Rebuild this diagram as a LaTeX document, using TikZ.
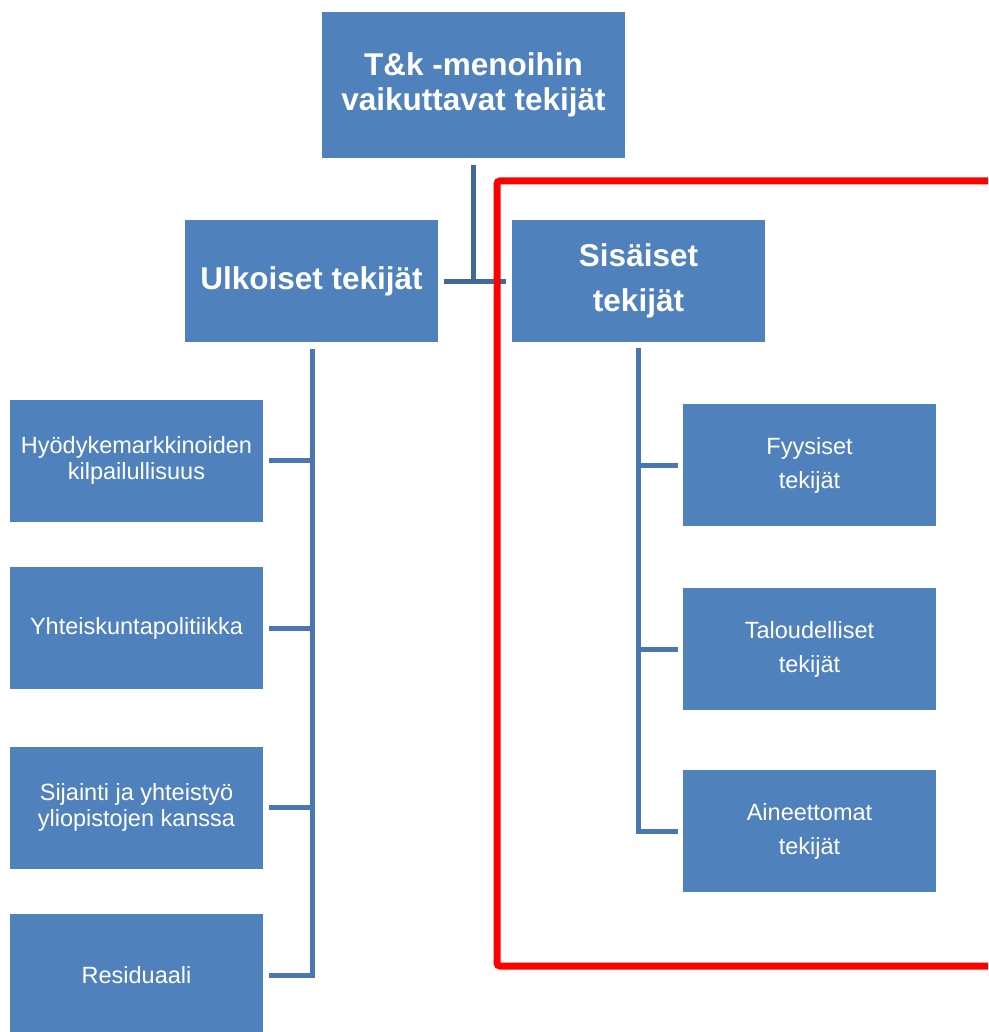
\documentclass[tikz,border=0pt]{standalone}
\usepackage{fontspec}
\setmainfont{Liberation Sans}
\usepackage{tikz}

\definecolor{boxblue}{HTML}{4F81BD}
\definecolor{linkblue}{HTML}{4A77B0}
\definecolor{darkblue}{HTML}{41689A}

\begin{document}
\begin{tikzpicture}[x=1pt, y=-1pt,
  box/.style = {fill=boxblue, text=white, align=center, inner sep=0pt,
    minimum width=253pt, minimum height=122pt},
  small/.style = {box, font=\fontsize{23.5}{26}\selectfont},
  wide/.style = {box, font=\fontsize{23.5}{34}\selectfont},
  head/.style = {box, font=\bfseries\fontsize{31.5}{45}\selectfont},
  tree/.style = {draw=linkblue, line width=5pt},
  junc/.style = {draw=darkblue, line width=5pt},
  frame/.style = {draw=red, line width=7pt, rounded corners=3pt}]
\useasboundingbox (0,0) rectangle (988,1032);
\clip (0,0) rectangle (988,1032);
\node[head, minimum width=303pt, minimum height=146pt, font=\bfseries\fontsize{31.5}{35}\selectfont] (top) at (473.5,85) {T\&k -menoihin\\vaikuttavat tekijät};
\node[head] (ulk) at (311.5,281) {Ulkoiset tekijät};
\node[head] (sis) at (638.5,281) {Sisäiset\\tekijät};
% ulkoiset
\node[small] (hyo) at (136.5,460.5) {Hyödykemarkkinoiden\\kilpailullisuus};
\node[small] (yht) at (136.5,628) {Yhteiskuntapolitiikka};
\node[small] (sij) at (136.5,807.5) {Sijainti ja yhteistyö\\yliopistojen kanssa};
\node[small] (res) at (136.5,975) {Residuaali};
% sisaiset
\node[wide] (fyy) at (809.5,465) {Fyysiset\\tekijät};
\node[wide] (tal) at (809.5,649) {Taloudelliset\\tekijät};
\node[wide] (ain) at (809.5,831) {Aineettomat\\tekijät};
% connectors
\draw[junc] ([yshift=-7pt]top.south) -- (top.south |- ulk.east);
\draw[junc] ([xshift=6pt]ulk.east) -- ([xshift=-6pt]sis.west);
\coordinate (lt) at (312,349);
\coordinate (rt) at (638,348);
\draw[tree] (lt) |- ([xshift=6pt]res.east);
\draw[tree] ([xshift=6pt]hyo.east) -- (hyo.east -| lt);
\draw[tree] ([xshift=6pt]yht.east) -- (yht.east -| lt);
\draw[tree] ([xshift=6pt]sij.east) -- (sij.east -| lt);
\draw[tree] (rt) |- ([xshift=-5pt]ain.west);
\draw[tree] (fyy.west -| rt) -- ([xshift=-5pt]fyy.west);
\draw[tree] (tal.west -| rt) -- ([xshift=-5pt]tal.west);
% rajaus
\draw[frame] (1000,181) -- (497,181) -- (497,966) -- (1000,966);
\end{tikzpicture}
\end{document}
